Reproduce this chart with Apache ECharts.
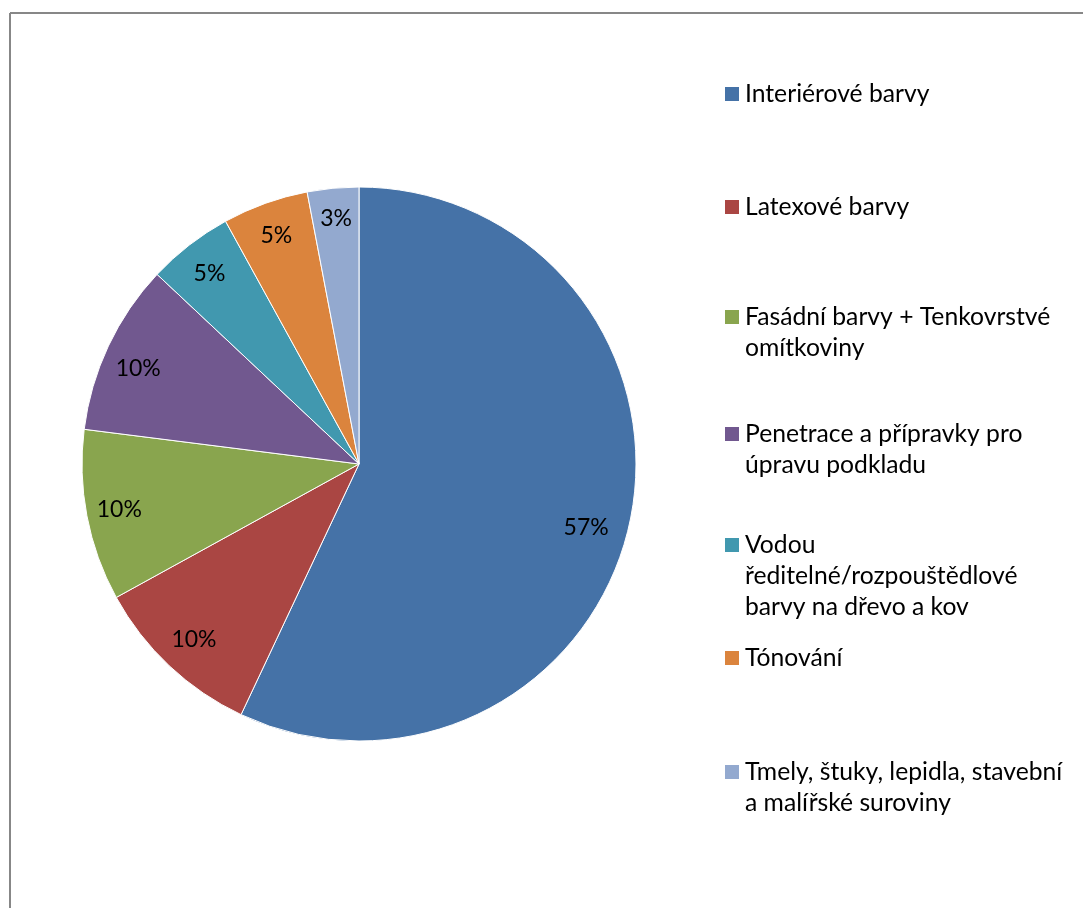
<!DOCTYPE html>
<html>
<head>
<meta charset="utf-8">
<script src="https://cdn.jsdelivr.net/npm/echarts@6/dist/echarts.min.js"></script>
<style>
html,body{margin:0;padding:0;background:#fff;}
#chart{width:1083px;height:908px;}
</style>
</head>
<body>
<div id="chart"></div>
<script>
// Data
var categories = [
  'Interiérové barvy',
  'Latexové barvy',
  'Fasádní barvy + Tenkovrstvé\nomítkoviny',
  'Penetrace a přípravky pro\núpravu podkladu',
  'Vodou\nředitelné/rozpouštědlové\nbarvy na dřevo a kov',
  'Tónování',
  'Tmely, štuky, lepidla, stavební\na malířské suroviny'
];
var values = [57, 10, 10, 10, 5, 5, 3];
var colors = ['#4572A7', '#AA4643', '#89A54E', '#71588F', '#4198AF', '#DB843D', '#93A9CF'];

// Layout
var legendCentres = [94, 207, 317, 434, 545, 658, 772];
var labelOffsets = [[-11, 10], [2, -2], [0, 0], [0, 8], [0, 2], [0, 1], [0, -3]];
var LH = 31;
var CX = 359, CY = 464, R = 277;

var pieData = categories.map(function (c, i) {
  return { name: c, value: values[i], itemStyle: { color: colors[i] } };
});

var legends = categories.map(function (c, i) {
  var n = c.split('\n').length;
  var blockH = (2 * n - 1) * LH;
  return {
    orient: 'vertical',
    left: 723,
    top: legendCentres[i] - blockH / 2,
    padding: 0,
    itemWidth: 16,
    itemHeight: 16,
    icon: 'rect',
    selectedMode: false,
    data: [c],
    formatter: function (name) {
      var k = name.split('\n').length;
      var pre = '';
      for (var j = 0; j < k - 1; j++) pre += ' \n';
      return pre + name;
    },
    textStyle: { fontFamily: 'Lato', fontSize: 24.7, color: '#000', lineHeight: LH }
  };
});

var chart = echarts.init(document.getElementById('chart'), null, { renderer: 'canvas' });
chart.setOption({
  backgroundColor: '#fff',
  animation: false,
  legend: legends,
  graphic: [
    { type: 'line', shape: { x1: 10, y1: 13, x2: 1083, y2: 13 }, style: { stroke: '#878787', lineWidth: 2 }, silent: true },
    { type: 'line', shape: { x1: 10, y1: 13, x2: 10, y2: 908 }, style: { stroke: '#878787', lineWidth: 2 }, silent: true }
  ],
  series: [
    {
      type: 'pie',
      center: [CX, CY],
      radius: [0, R],
      startAngle: 90,
      clockwise: true,
      data: pieData,
      label: { show: false },
      labelLine: { show: false },
      itemStyle: { borderColor: '#fff', borderWidth: 1 },
      emphasis: { disabled: true },
      silent: true
    },
    {
      type: 'pie',
      center: [CX, CY],
      radius: [R * 0.74, R],
      startAngle: 90,
      clockwise: true,
      data: pieData.map(function (d, i) {
        return { name: d.name, value: d.value, label: { offset: labelOffsets[i] } };
      }),
      itemStyle: { color: 'rgba(0,0,0,0)', borderWidth: 0 },
      label: {
        show: true,
        position: 'inside',
        formatter: '{d}%',
        fontFamily: 'Lato',
        fontSize: 23,
        color: '#000'
      },
      labelLine: { show: false },
      emphasis: { disabled: true },
      silent: true,
      z: 3
    }
  ]
});
</script>
</body>
</html>
